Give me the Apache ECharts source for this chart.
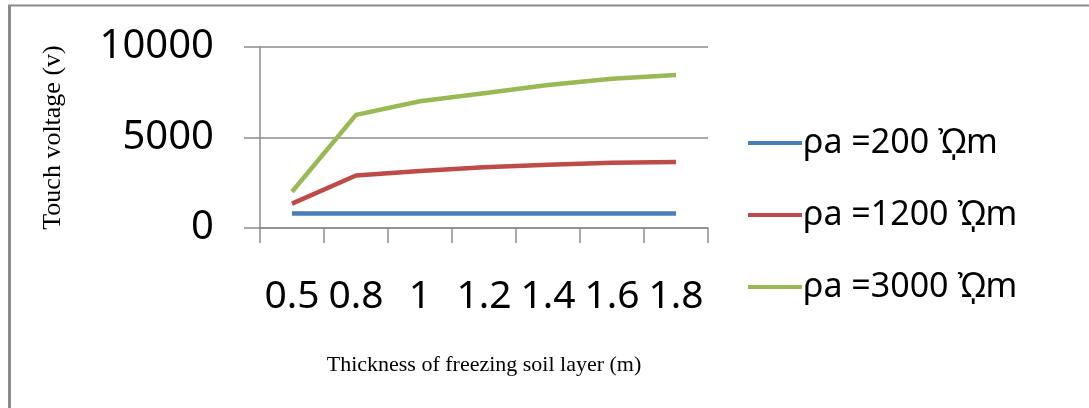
<!DOCTYPE html>
<html lang="en" style="height: 100%">
<head>
  <meta charset="utf-8">
  <style>
    html, body { margin: 0; height: 100%; background: #fff; }
    #container { width: 1089px; height: 408px; }
  </style>
</head>
<body>
  <div id="container"></div>
  <script src="https://cdn.jsdelivr.net/npm/echarts@6/dist/echarts.min.js"></script>
  <script>
    // thickness of freezing soil layer (m)
    var thickness = ['0.5', '0.8', '1', '1.2', '1.4', '1.6', '1.8'];
    // touch voltage (v) for each apparent resistivity
    var rho200 = [800, 800, 800, 800, 800, 800, 800];
    var rho1200 = [1350, 2900, 3150, 3350, 3500, 3600, 3650];
    var rho3000 = [2000, 6250, 7000, 7450, 7900, 8250, 8450];
    var seriesNames = ['ρa =200 Ὠ̩m', 'ρa =1200 Ὠ̩m', 'ρa =3000 Ὠ̩m'];
    var colors = ['#4a7ebb', '#be4b48', '#98b954'];

    var chart = echarts.init(document.getElementById('container'), null, { renderer: 'canvas' });

    var labelFont = '"Noto Sans", "Open Sans", sans-serif';
    var serif = '"Liberation Serif", "DejaVu Serif", serif';

    function makeSeries(name, data, i) {
      return {
        name: name,
        type: 'line',
        data: data,
        symbol: 'none',
        lineStyle: { color: colors[i], width: 4.5 },
        itemStyle: { color: colors[i] },
        z: 10 - i
      };
    }

    chart.setOption({
      animation: false,
      color: colors,
      grid: { left: 260, right: 381, top: 47, bottom: 180 },
      graphic: [
        { type: 'line', shape: { x1: 9.5, y1: 5, x2: 9.5, y2: 408 }, style: { stroke: '#8c8c8c', lineWidth: 3 } },
        { type: 'line', shape: { x1: 8, y1: 5.5, x2: 1089, y2: 5.5 }, style: { stroke: '#8c8c8c', lineWidth: 2 } }
      ],
      legend: {
        orient: 'vertical',
        left: 748,
        top: 126,
        padding: 0,
        icon: 'rect',
        itemWidth: 54,
        itemHeight: 4,
        itemGap: 38,
        textStyle: { fontFamily: labelFont, fontSize: 34, color: '#000', padding: [0, 0, 0, -4] },
        data: seriesNames
      },
      xAxis: {
        type: 'category',
        data: thickness,
        boundaryGap: true,
        name: 'Thickness of freezing soil layer (m)',
        nameLocation: 'middle',
        nameGap: 126,
        nameTextStyle: { fontFamily: serif, fontSize: 22, color: '#000' },
        axisLine: { lineStyle: { color: '#8c8c8c', width: 1.5 } },
        axisTick: { show: true, length: 15, lineStyle: { color: '#8c8c8c', width: 1.5 } },
        axisLabel: { fontFamily: labelFont, fontSize: 39, color: '#000', margin: 49, interval: 0 }
      },
      yAxis: {
        type: 'value',
        min: 0,
        max: 10000,
        interval: 5000,
        name: 'Touch voltage (v)',
        nameLocation: 'middle',
        nameGap: 194,
        nameRotate: 90,
        nameTextStyle: { fontFamily: serif, fontSize: 26, color: '#000' },
        axisLine: { show: true, lineStyle: { color: '#8c8c8c', width: 1.5 } },
        axisTick: { show: true, length: 16, lineStyle: { color: '#8c8c8c', width: 1.5 } },
        splitLine: { show: true, lineStyle: { color: '#8c8c8c', width: 1.5 } },
        axisLabel: {
          fontFamily: labelFont, fontSize: 40, color: '#000', margin: 46,
          formatter: function (v) { return String(v); }
        }
      },
      series: [
        makeSeries(seriesNames[0], rho200, 0),
        makeSeries(seriesNames[1], rho1200, 1),
        makeSeries(seriesNames[2], rho3000, 2)
      ]
    });

    window.addEventListener('resize', chart.resize);
  </script>
</body>
</html>
